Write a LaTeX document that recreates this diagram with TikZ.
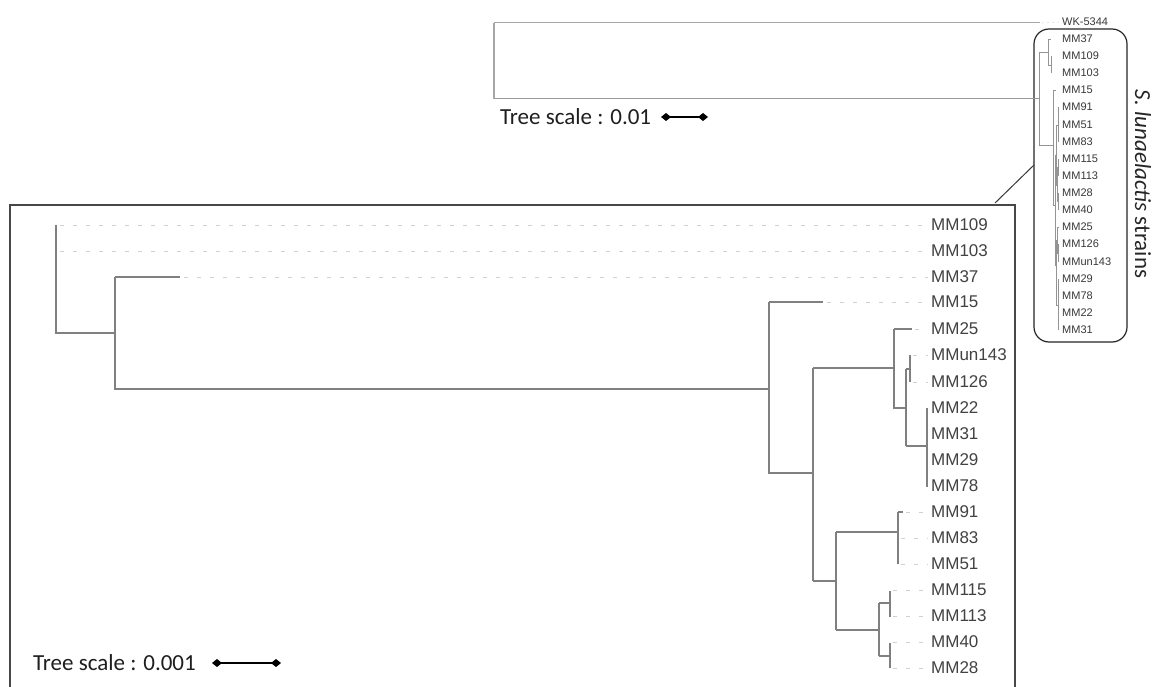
\documentclass[tikz,border=0pt]{standalone}
\usepackage{fontspec}
\setmainfont{Liberation Sans}
\newfontfamily\calfont{Carlito}
\usetikzlibrary{arrows.meta}
\begin{document}
\begin{tikzpicture}[x=1pt,y=-1pt,
 br/.style={draw=black!50,line width=1.1pt},
 dsh/.style={draw=black!18,line width=0.9pt,dash pattern=on 4pt off 9pt},
 lbl/.style={anchor=west,inner sep=0pt,text=black!74,font=\fontsize{17}{17}\selectfont},
 slbl/.style={anchor=west,inner sep=0pt,text=black!78,font=\fontsize{11}{11}\selectfont},
 sbr/.style={draw=black!42,line width=0.7pt},
 sdsh/.style={draw=black!15,line width=0.6pt,dash pattern=on 2pt off 3pt},
 scbar/.style={line width=2.4pt,{Diamond[length=10pt,width=8pt]}-{Diamond[length=10pt,width=8pt]}},
 sctext/.style={anchor=west,inner sep=0pt,text=black!88,font=\calfont\fontsize{23}{23}\selectfont},
 ]
\useasboundingbox (0,0) rectangle (1157,687);
\fill[white] (0,0) rectangle (1157,687);

% ---------- big (zoomed) tree ----------
\coordinate (boxtop) at (995,205);
\draw[draw=black!72,line width=1.3pt] (10,687) -- (10,205) -- (1015,205) -- (1015,687);

\foreach \n/\y in {MM109/225,MM103/251,MM37/277,MM15/302,MM25/329,MMun143/355,MM126/382,MM22/408,MM31/434,MM29/460,MM78/486,MM91/512,MM83/538,MM51/564,MM115/590,MM113/616,MM40/642,MM28/668}
  \node[lbl] (L\n) at (931,\y) {\n};

\draw[br] (56,225) -- (56,333) -- (115,333);
\draw[br] (115,277) -- (180,277);
\draw[br] (115,277) -- (115,389) -- (769,389);
\draw[br] (769,302) -- (823,302);
\draw[br] (769,302) -- (769,473) -- (813,473);
\draw[br] (813,368) -- (813,581);
\draw[br] (813,368) -- (894,368);
\draw[br] (894,329) -- (912,329);
\draw[br] (894,329) -- (894,408) -- (906,408);
\draw[br] (906,369) -- (906,446);
\draw[br] (906,369) -- (910,369);
\draw[br] (910,355) -- (910,382);
\draw[br] (906,446) -- (927,446);
\draw[br] (927,408) -- (927,487);
\draw[br] (813,581) -- (836,581);
\draw[br] (836,532) -- (836,630);
\draw[br] (836,532) -- (898,532);
\draw[br] (898,512) -- (898,564);
\draw[br] (898,512) -- (903,512);
\draw[br] (836,630) -- (879,630);
\draw[br] (879,603) -- (879,656);
\draw[br] (879,603) -- (890,603);
\draw[br] (890,591) -- (890,617);
\draw[br] (879,656) -- (890,656);
\draw[br] (890,643) -- (890,668);

\foreach \n/\x in {MM109/60,MM103/60,MM37/184,MM15/827,MM25/915,MMun143/913,MM126/913,MM91/906,MM83/901,MM51/901,MM115/893,MM113/893,MM40/893,MM28/893}
  \draw[dsh] (\x,0 |- L\n.west) -- ([xshift=-3pt]L\n.west);

\node[sctext] (sc2) at (33,663) {Tree scale : 0.001};
\coordinate (b2a) at (212,663);
\coordinate (b2b) at (281,663);
\draw[scbar] (b2a) -- (b2b);

% ---------- small (overview) tree ----------
\draw[draw=black!85,line width=1.2pt,rounded corners=15pt] (1034,29) rectangle (1127,342);
\coordinate (rbox) at (1034,165);
\draw[black!78,line width=1pt] (boxtop) ++(0,-2) -- (rbox);

\foreach \n/\y in {WK-5344/22,MM37/39,MM109/56,MM103/73,MM15/90,MM91/107,MM51/125,MM83/142,MM115/159,MM113/176,MM28/193,MM40/210,MM25/227,MM126/244,MMun143/262,MM29/279,MM78/296,MM22/313,MM31/330}
  \node[slbl] (S\n) at (1062,\y) {\n};

\draw[draw=black!35,line width=1.3pt] (494,23) -- (494,99);
\draw[draw=black!35,line width=1pt] (494,23) -- (1040,23);
\draw[draw=black!40,line width=1pt] (494,99) -- (1039,99);
\draw[sdsh] (1042,23) -- ([xshift=-2pt]SWK-5344.west);

\draw[sbr] (1039,52) -- (1039,145);
\draw[sbr] (1039,52) -- (1048,52);
\draw[sbr] (1048,39) -- (1048,65);
\draw[sbr] (1048,39) -- (1051,39);
\draw[sbr] (1048,65) -- (1051,65);
\draw[sbr] (1051,56) -- (1051,73);
\draw[sbr] (1039,145) -- (1053,145);
\draw[sbr] (1053,90) -- (1053,205);
\draw[sbr] (1053,90) -- (1056,90);
\draw[sbr] (1053,205) -- (1055,205);
\draw[sbr] (1055,155) -- (1055,265);
\draw[sbr] (1055,155) -- (1056,155);
\draw[sbr] (1056,125) -- (1056,185);
\draw[sbr] (1056,125) -- (1058,125);
\draw[sbr] (1058,107) -- (1058,142);
\draw[sbr] (1056,185) -- (1057,185);
\draw[sbr] (1057,167) -- (1057,201);
\draw[sbr] (1057,167) -- (1058.5,167);
\draw[sbr] (1058.5,159) -- (1058.5,176);
\draw[sbr] (1057,201) -- (1058.5,201);
\draw[sbr] (1058.5,193) -- (1058.5,210);
\draw[sbr] (1055,265) -- (1056,265);
\draw[sbr] (1056,240) -- (1056,305);
\draw[sbr] (1056,240) -- (1057,240);
\draw[sbr] (1057,227) -- (1057,253);
\draw[sbr] (1057,227) -- (1059,227);
\draw[sbr] (1057,253) -- (1058,253);
\draw[sbr] (1058,244) -- (1058,262);
\draw[sbr] (1056,305) -- (1058,305);
\draw[sbr] (1058,279) -- (1058,330);

\node[sctext] (sc1) at (500,117) {Tree scale : 0.01};
\coordinate (b1a) at (661,117);
\coordinate (b1b) at (708,117);
\draw[scbar] (b1a) -- (b1b);

\node[rotate=-90,inner sep=0pt,text=black!85,font=\calfont\fontsize{23}{23}\selectfont] (sp) at (1143,184) {\textit{S. lunaelactis} strains};
\end{tikzpicture}
\end{document}
